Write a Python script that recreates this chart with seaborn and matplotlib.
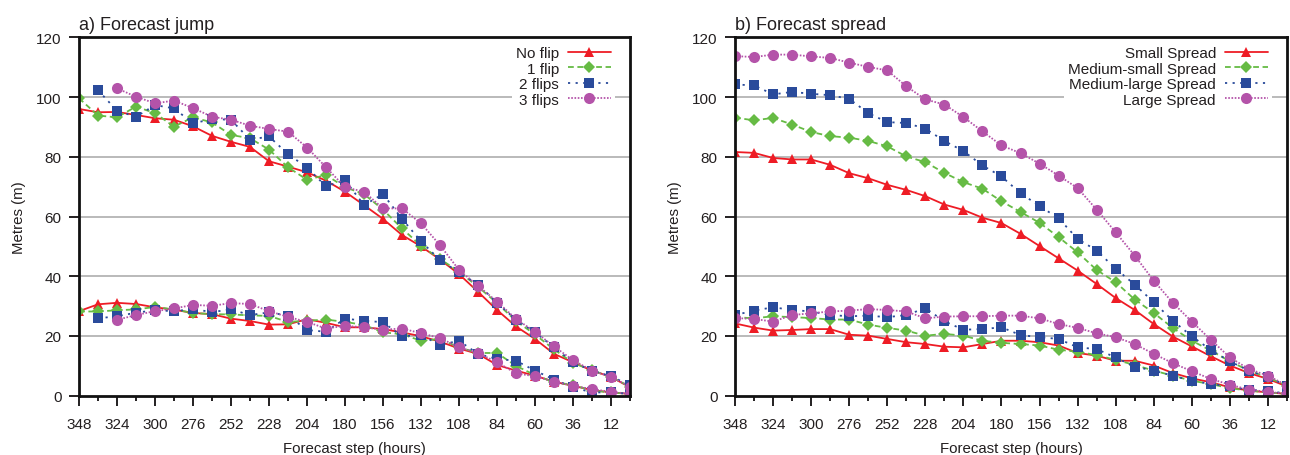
import numpy as np
import pandas as pd
import matplotlib
matplotlib.use("Agg")
import matplotlib.pyplot as plt
from matplotlib.lines import Line2D
import seaborn as sns

# ---------------- data ----------------
hours = list(range(348, -1, -12))          # 348 ... 0 (30 steps)

# Panel a) Forecast jump
nof_up = [96.0, 94.9, 95.0, 94.0, 92.9, 92.4, 90.2, 87.0, 85.0, 83.3, 78.5, 76.7, 74.8, 72.0, 68.3,
          63.8, 59.2, 53.8, 50.0, 45.6, 40.7, 34.8, 28.7, 23.2, 19.0, 14.0, 11.2, 8.4, 6.3, 2.8]
nof_lo = [28.3, 30.6, 31.1, 30.7, 29.6, 28.8, 27.7, 27.3, 25.8, 25.0, 23.8, 23.9, 25.6, 24.4, 22.9,
          22.9, 22.3, 21.2, 19.9, 18.1, 15.8, 14.0, 10.3, 8.4, 6.7, 4.7, 3.3, 1.9, 1.1, 0.6]
flip1_up = [99.6, 93.8, 93.2, 96.8, 94.6, 90.1, 93.2, 91.5, 87.3, 86.2, 82.4, 76.5, 72.3, 73.9, 69.8,
            67.5, 62.3, 56.0, 50.2, 45.8, 41.5, 36.5, 31.0, 25.0, 20.5, 15.5, 11.0, 8.5, 6.3, 3.0]
flip1_lo = [28.2, 28.2, 28.6, 28.9, 29.7, 28.9, 27.7, 27.3, 27.2, 26.9, 26.7, 24.7, 25.1, 25.5, 24.7,
            23.7, 21.2, 20.6, 18.4, 19.0, 16.2, 14.3, 14.3, 10.0, 6.9, 4.5, 3.6, 1.7, 1.1, 0.6]
flip2_up = [102.3, 95.4, 93.4, 97.3, 96.2, 91.2, 92.6, 92.4, 85.7, 86.8, 80.9, 76.4, 70.1, 72.2,
            63.8, 67.5, 59.2, 51.7, 45.4, 41.3, 37.2, 31.2, 25.4, 21.2, 16.2, 11.2, 8.4, 6.5, 3.5]
flip2_lo = [25.9, 26.6, 27.8, 28.6, 28.3, 29.0, 28.0, 28.9, 27.0, 27.9, 26.8, 22.0, 21.4, 25.8,
            25.1, 24.6, 19.9, 20.3, 17.0, 18.4, 14.0, 12.3, 11.7, 8.4, 5.4, 2.8, 1.1, 1.1, 0.6]
flip3_up = [102.9, 100.1, 97.9, 98.8, 96.3, 93.4, 92.4, 90.4, 89.3, 88.4, 83.1, 76.5, 69.8, 68.3,
            62.7, 62.7, 57.7, 50.4, 42.1, 36.8, 31.5, 25.7, 21.4, 16.5, 11.9, 8.4, 6.3, 3.0]
flip3_lo = [25.4, 27.0, 28.3, 29.2, 30.4, 30.1, 31.0, 30.7, 28.3, 26.4, 24.7, 22.5, 23.4, 22.9,
            22.1, 22.5, 20.9, 19.3, 16.2, 14.3, 11.2, 7.5, 6.5, 4.7, 3.3, 2.2, 1.3, 0.6]

# Panel b) Forecast spread
small_up = [81.6, 81.3, 79.6, 79.1, 79.1, 77.3, 74.5, 72.8, 70.6, 68.9, 66.8, 64.0, 62.2, 59.6, 57.8,
            54.2, 50.1, 46.0, 41.9, 37.4, 32.7, 28.7, 24.0, 19.8, 16.5, 13.2, 10.1, 7.6, 5.6, 3.1]
small_lo = [24.2, 22.8, 21.8, 22.0, 22.3, 22.3, 20.4, 20.1, 19.0, 17.9, 17.3, 16.4, 16.2, 17.3, 18.4,
            18.4, 17.9, 16.8, 14.3, 13.4, 11.7, 11.7, 10.1, 7.6, 5.8, 4.5, 2.8, 1.7, 1.1, 0.6]
msmall_up = [93.1, 92.2, 93.0, 90.8, 88.3, 86.9, 86.4, 85.3, 83.5, 80.1, 78.2, 74.6, 71.5, 69.3, 65.1,
             61.5, 57.9, 53.1, 48.0, 42.1, 38.0, 32.2, 27.7, 22.7, 18.4, 15.1, 11.5, 8.4, 6.1, 3.4]
msmall_lo = [26.3, 25.9, 26.6, 26.3, 26.0, 25.5, 25.5, 23.8, 22.7, 21.8, 20.1, 20.7, 20.1, 18.4, 17.7,
             17.3, 16.8, 15.4, 14.7, 13.6, 12.0, 10.3, 8.4, 6.7, 5.0, 3.9, 2.5, 1.7, 1.1, 0.6]
mlarge_up = [104.2, 103.9, 100.9, 101.7, 101.1, 100.6, 99.4, 94.6, 91.6, 91.3, 89.4, 85.3, 81.9, 77.1,
             73.4, 67.8, 63.5, 59.4, 52.5, 48.6, 42.5, 37.2, 31.3, 25.1, 19.9, 15.3, 11.5, 8.4, 6.1, 3.4]
mlarge_lo = [27.0, 28.5, 29.6, 28.7, 28.2, 27.0, 26.6, 26.8, 26.3, 27.0, 29.3, 24.9, 22.1, 22.3, 22.9,
             20.3, 19.6, 19.0, 16.2, 15.6, 12.8, 9.7, 8.4, 6.7, 5.0, 3.9, 3.1, 1.9, 1.7, 0.6]
large_up = [113.7, 113.4, 114.2, 114.2, 113.6, 113.1, 111.5, 110.1, 108.9, 103.6, 99.2, 97.5, 93.3,
            88.5, 83.8, 81.2, 77.7, 73.7, 69.5, 62.3, 54.7, 46.9, 38.5, 31.1, 24.8, 18.7, 12.8, 8.9, 6.7, 3.4]
large_lo = [26.0, 25.7, 24.8, 27.0, 27.6, 28.2, 28.5, 29.0, 28.7, 28.2, 25.9, 26.5, 26.6, 26.6, 26.8,
            26.8, 25.9, 24.0, 22.7, 20.9, 19.6, 17.3, 14.0, 10.9, 8.2, 5.6, 3.7, 2.0, 1.3, 0.6]

labels_a = ["No flip", "1 flip", "2 flips", "3 flips"]
labels_b = ["Small Spread", "Medium-small Spread", "Medium-large Spread", "Large Spread"]
xtick_labels = [str(h) for h in range(348, 0, -24)]

# ---------------- styles ----------------
colors = ["#ee1c25", "#66bb44", "#2a4b9b", "#b453a9"]
markers = ["^", "D", "s", "o"]
msizes = [7.8, 6.0, 7.4, 8.0]
dashes = ["", (3.2, 2.0), (1.2, 3.0), (0.9, 0.9)]
TXT = "#231f20"

sns.set_theme(style="white")
plt.rcParams["font.family"] = ["Liberation Sans", "DejaVu Sans"]
plt.rcParams["text.color"] = TXT
plt.rcParams["axes.labelcolor"] = TXT
plt.rcParams["xtick.color"] = TXT
plt.rcParams["ytick.color"] = TXT


def build_df(labels, series):
    rows = []
    for lab, (up, lo) in zip(labels, series):
        for branch, vals in (("upper", up), ("lower", lo)):
            hh = hours[len(hours) - len(vals):]
            for h, v in zip(hh, vals):
                rows.append({"hour": h, "value": v, "series": lab, "branch": branch})
    return pd.DataFrame(rows)


def draw_panel(ax, labels, series, title):
    df = build_df(labels, series)
    pal = dict(zip(labels, colors))
    mk = dict(zip(labels, markers))
    ds = dict(zip(labels, dashes))
    sns.lineplot(data=df, x="hour", y="value", hue="series", style="series",
                 units="branch", estimator=None, sort=False,
                 palette=pal, markers=mk, dashes=ds, hue_order=labels, style_order=labels,
                 linewidth=1.3, markersize=7, markeredgewidth=0, legend=False, ax=ax, zorder=3)
    # per-series marker sizes
    for line in ax.get_lines():
        c = matplotlib.colors.to_hex(line.get_color())
        for col, ms in zip(colors, msizes):
            if c == col:
                line.set_markersize(ms)
    ax.set_xlim(348, 0)
    ax.set_ylim(0, 120)
    ax.set_xticks(range(348, 0, -24))
    ax.set_xticklabels(xtick_labels)
    ax.set_xticks(range(336, -1, -24), minor=True)
    ax.set_yticks(range(0, 121, 20))
    ax.tick_params(axis="both", which="major", direction="out", length=7.5, width=1.4,
                   labelsize=11, pad=5, bottom=True, left=True)
    ax.tick_params(axis="x", which="major", pad=8)
    ax.tick_params(axis="x", which="minor", direction="out", length=3.8, width=1.4, bottom=True)
    for y in range(20, 120, 20):
        ax.axhline(y, color="#b4b4b4", lw=1.3, zorder=1)
    for sp in ax.spines.values():
        sp.set_visible(True)
        sp.set_color("#111111")
        sp.set_linewidth(2.0)
        sp.set_zorder(5)
    ax.set_xlabel("Forecast step (hours)", fontsize=10.8, labelpad=7)
    ax.set_ylabel("Metres (m)", fontsize=10.8, labelpad=7)
    ax.set_title(title, loc="left", fontsize=13, pad=6, color=TXT)
    handles = [Line2D([0], [0], color=c, marker=m, markersize=ms, markeredgewidth=0,
                      linestyle="-" if d == "" else (0, d), linewidth=1.3)
               for c, m, ms, d in zip(colors, markers, msizes, dashes)]
    width_px = ax.get_position().width * 1290
    leg = ax.legend(handles, labels, loc="upper right", bbox_to_anchor=(1 - 10 / width_px, 1.0),
                    markerfirst=False, numpoints=1,
                    fontsize=11, frameon=True, facecolor="white", edgecolor="none",
                    framealpha=1.0, fancybox=False, handlelength=2.8, handletextpad=0.6,
                    labelspacing=0.09, borderpad=0.25, borderaxespad=0.35)
    leg.set_zorder(4)


fig = plt.figure(figsize=(12.9, 4.56), dpi=100)
ax_a = fig.add_axes([79 / 1290, 59.3 / 456, 551 / 1290, 358.4 / 456])
ax_b = fig.add_axes([735 / 1290, 59.3 / 456, 552 / 1290, 358.4 / 456])

draw_panel(ax_a, labels_a, [(nof_up, nof_lo), (flip1_up, flip1_lo),
                            (flip2_up, flip2_lo), (flip3_up, flip3_lo)], "a) Forecast jump")
draw_panel(ax_b, labels_b, [(small_up, small_lo), (msmall_up, msmall_lo),
                            (mlarge_up, mlarge_lo), (large_up, large_lo)], "b) Forecast spread")

fig.savefig("out.png", dpi=100)
